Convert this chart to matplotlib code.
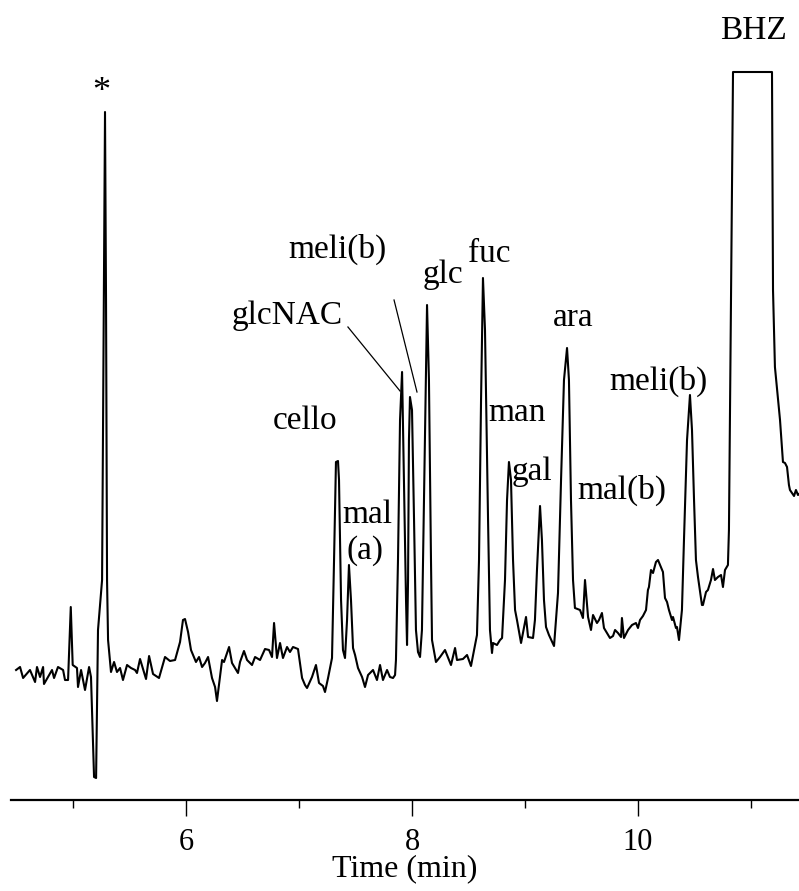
import matplotlib
matplotlib.use("Agg")
import matplotlib.pyplot as plt
from matplotlib.ticker import MultipleLocator

plt.rcParams['font.family'] = ['Liberation Serif', 'DejaVu Serif']

# retention time (min) and detector signal (arbitrary units)
time_min = [
    4.496, 4.531, 4.558, 4.619, 4.664, 4.681, 4.708, 4.735, 4.743, 4.779,
    4.814, 4.832, 4.867, 4.912, 4.929, 4.956, 4.980, 4.997, 5.035, 5.044,
    5.071, 5.106, 5.142, 5.159, 5.186, 5.204, 5.221, 5.257, 5.283, 5.292,
    5.301, 5.310, 5.336, 5.363, 5.389, 5.416, 5.442, 5.478, 5.513, 5.549,
    5.566, 5.593, 5.646, 5.673, 5.708, 5.761, 5.814, 5.858, 5.903, 5.947,
    5.973, 5.991, 6.018, 6.044, 6.062, 6.088, 6.115, 6.142, 6.168, 6.195,
    6.230, 6.257, 6.274, 6.319, 6.336, 6.381, 6.407, 6.460, 6.478, 6.513,
    6.540, 6.584, 6.611, 6.655, 6.699, 6.735, 6.761, 6.779, 6.805, 6.832,
    6.858, 6.894, 6.920, 6.947, 6.991, 7.027, 7.053, 7.071, 7.115, 7.150,
    7.177, 7.212, 7.230, 7.257, 7.292, 7.310, 7.327, 7.345, 7.354, 7.372,
    7.389, 7.407, 7.425, 7.442, 7.460, 7.478, 7.496, 7.522, 7.558, 7.584,
    7.611, 7.655, 7.690, 7.717, 7.743, 7.779, 7.805, 7.832, 7.850, 7.858,
    7.876, 7.894, 7.912, 7.929, 7.947, 7.956, 7.965, 7.973, 7.982, 8.000,
    8.018, 8.035, 8.053, 8.071, 8.088, 8.106, 8.133, 8.150, 8.168, 8.177,
    8.212, 8.248, 8.292, 8.345, 8.381, 8.398, 8.451, 8.487, 8.522, 8.549,
    8.575, 8.593, 8.611, 8.628, 8.646, 8.673, 8.690, 8.708, 8.717, 8.752,
    8.779, 8.797, 8.805, 8.823, 8.841, 8.858, 8.876, 8.894, 8.912, 8.929,
    8.965, 8.982, 9.009, 9.027, 9.071, 9.088, 9.106, 9.133, 9.150, 9.168,
    9.186, 9.212, 9.257, 9.274, 9.292, 9.319, 9.345, 9.372, 9.389, 9.407,
    9.425, 9.442, 9.487, 9.513, 9.531, 9.549, 9.558, 9.584, 9.602, 9.637,
    9.655, 9.681, 9.699, 9.726, 9.752, 9.779, 9.797, 9.823, 9.850, 9.858,
    9.876, 9.912, 9.947, 9.982, 10.000, 10.018, 10.044, 10.071, 10.088, 10.097,
    10.115, 10.133, 10.159, 10.177, 10.195, 10.221, 10.239, 10.257, 10.274, 10.301,
    10.310, 10.336, 10.345, 10.363, 10.389, 10.407, 10.434, 10.460, 10.478, 10.496,
    10.513, 10.531, 10.566, 10.575, 10.602, 10.619, 10.646, 10.664, 10.681, 10.708,
    10.735, 10.752, 10.770, 10.796, 10.805, 10.823, 10.841, 11.186, 11.195, 11.212,
    11.257, 11.283, 11.301, 11.319, 11.336, 11.345, 11.363, 11.381, 11.398, 11.416,
    11.434,
]
signal = [
    130, 133, 122, 130, 118, 133, 123, 133, 116, 123,
    130, 122, 133, 130, 120, 120, 193, 135, 132, 113,
    130, 110, 133, 123, 23, 22, 170, 220, 688, 500,
    220, 160, 128, 138, 128, 132, 120, 135, 132, 130,
    127, 141, 121, 144, 126, 122, 143, 139, 140, 158,
    180, 181, 168, 150, 145, 138, 143, 133, 137, 143,
    122, 113, 99, 140, 138, 153, 137, 127, 138, 149,
    140, 135, 143, 140, 151, 150, 143, 177, 142, 157,
    142, 153, 148, 153, 151, 122, 115, 112, 123, 135,
    117, 114, 108, 122, 142, 240, 338, 339, 320, 200,
    150, 142, 180, 235, 200, 152, 145, 132, 123, 113,
    125, 130, 120, 135, 120, 130, 123, 122, 125, 140,
    240, 380, 428, 320, 200, 155, 220, 360, 403, 390,
    280, 170, 148, 143, 170, 300, 495, 420, 240, 160,
    138, 143, 150, 135, 152, 140, 141, 145, 134, 150,
    165, 240, 400, 522, 470, 280, 170, 147, 157, 155,
    160, 162, 180, 220, 300, 338, 320, 240, 190, 180,
    157, 167, 183, 163, 162, 180, 230, 294, 260, 200,
    173, 165, 154, 180, 207, 320, 420, 452, 420, 300,
    220, 192, 190, 182, 220, 195, 183, 170, 185, 177,
    180, 187, 172, 167, 162, 164, 170, 167, 163, 182,
    162, 170, 175, 177, 172, 180, 184, 190, 210, 213,
    230, 227, 238, 240, 235, 228, 202, 198, 190, 180,
    183, 172, 173, 160, 190, 260, 360, 405, 370, 300,
    240, 223, 195, 195, 208, 210, 220, 231, 220, 223,
    225, 213, 230, 235, 270, 500, 728, 728, 510, 433,
    380, 338, 337, 333, 315, 310, 307, 304, 310, 305,
    307,
]

# peak labels
label_text = ["*", "BHZ", "meli(b)", "glc", "fuc", "glcNAC", "cello", "man",
              "gal", "ara", "meli(b)", "mal(b)", "mal", "(a)"]
label_t = [5.248, 11.018, 7.336, 8.274, 8.681, 6.894, 7.053, 8.929,
           9.062, 9.425, 10.177, 9.858, 7.602, 7.584]
label_y = [707, 769, 551, 525, 546, 484, 379, 387,
           328, 482, 419, 310, 285, 249]

# leader lines from label to peak
leader_t = [[7.433, 7.894], [7.841, 8.044]]
leader_y = [[473, 409], [500, 408]]

fig = plt.figure(figsize=(7.99, 8.91), dpi=100)
ax = fig.add_axes([11 / 799, 1 - 800 / 891, 1 - 11 / 799, 800 / 891])

ax.plot(time_min, signal, color="black", lw=1.5)
for lt, ly in zip(leader_t, leader_y):
    ax.plot(lt, ly, color="black", lw=0.9)

for txt, t, y in zip(label_text, label_t, label_y):
    fs = 26 if txt == "*" else 24
    ax.text(t, y, txt, ha="center", va="center", fontsize=fs)

ax.set_xlim(4.451, 11.425)
ax.set_ylim(0, 800)

for side in ["left", "right", "top"]:
    ax.spines[side].set_visible(False)
ax.spines["bottom"].set_linewidth(1.6)
ax.set_yticks([])

ax.xaxis.set_major_locator(MultipleLocator(2))
ax.xaxis.set_minor_locator(MultipleLocator(1))
ax.tick_params(axis="x", which="major", direction="out", length=11.5, width=1,
               labelsize=22, pad=9)
ax.tick_params(axis="x", which="minor", direction="out", length=6, width=1)
ax.set_xlabel("Time (min)", fontsize=23, labelpad=-2)

plt.savefig("out.png", dpi=100)
